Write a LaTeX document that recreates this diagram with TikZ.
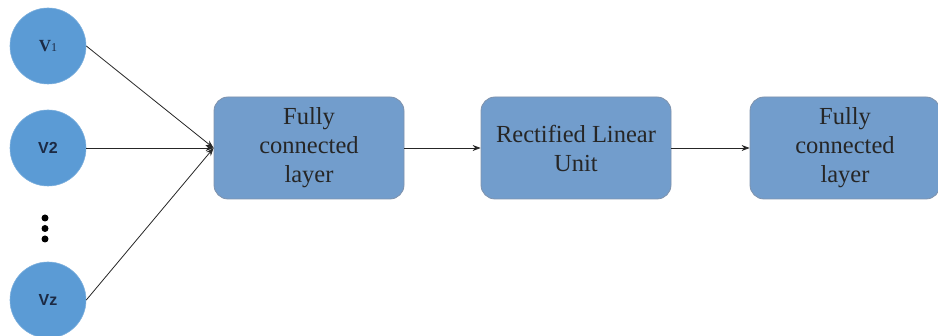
\documentclass[tikz,border=0pt]{standalone}
\usepackage{fontspec}
\setmainfont{Liberation Serif}
\setsansfont{Liberation Sans}
\usetikzlibrary{arrows.meta}
\definecolor{nodeblue}{HTML}{5B9BD5}
\definecolor{boxblue}{HTML}{729DCC}
\definecolor{boxedge}{HTML}{7F93AD}
\definecolor{labelink}{HTML}{1C2A44}
\begin{document}
\begin{tikzpicture}[x=1pt,y=-1pt,
  inputnode/.style={circle, fill=nodeblue, draw=nodeblue!80!white, line width=0.6pt,
    minimum size=76pt, inner sep=0pt, text=labelink},
  layerbox/.style={rectangle, rounded corners=14pt, fill=boxblue, draw=boxedge,
    line width=0.8pt, minimum width=190pt, minimum height=102pt, align=center,
    font=\fontsize{24.5}{29}\selectfont, text=black!85},
  link/.style={draw=black!85, line width=0.8pt, -{Stealth[length=8pt,width=6pt]}},
  dot/.style={circle, fill=black, inner sep=0pt, minimum size=7pt}]
\useasboundingbox (0,0) rectangle (938,336);

% input units
\node[inputnode] (v1) at (48,46) {\fontsize{17}{17}\selectfont\textbf{V}\fontsize{12}{12}\selectfont 1};
\node[inputnode] (v2) at (48,148) {\sffamily\bfseries\fontsize{16}{16}\selectfont V2};
\node[inputnode] (vz) at (48,300) {\sffamily\bfseries\fontsize{16}{16}\selectfont Vz};

% ellipsis between inputs
\node[dot] (d1) at (45,218) {};
\node[dot] (d2) at (45,228.5) {};
\node[dot] (d3) at (45,239) {};

% layers
\node[layerbox] (fc1) at (309,148) {Fully\\connected\\layer};
\node[layerbox] (relu) at (576,148) {Rectified Linear\\Unit};
\node[layerbox] (fc2) at (845,148) {Fully\\connected\\layer};

% connectors
\coordinate (join) at (fc1.west);
\draw[link] (v1.east) -- (join);
\draw[link] (v2.east) -- (join);
\draw[link] (vz.east) -- (join);
\draw[link] (fc1.east) -- (relu.west);
\draw[link] (relu.east) -- (fc2.west);
\end{tikzpicture}
\end{document}
